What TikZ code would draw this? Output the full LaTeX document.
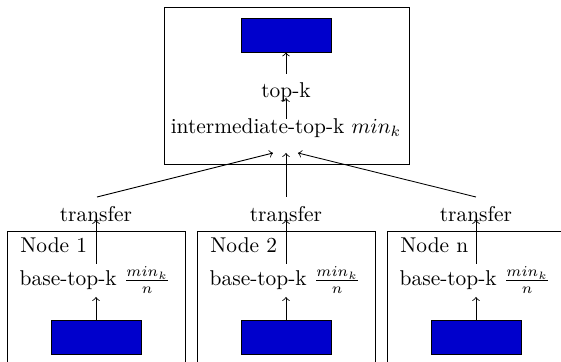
\documentclass[tikz,border=0pt]{standalone}
\usetikzlibrary{calc,fit}
\definecolor{barblue}{RGB}{0,0,204}
\begin{document}
\begin{tikzpicture}[x=0.467pt,y=-0.467pt,
  frame/.style={draw, inner sep=0pt},
  bar/.style={draw, fill=barblue, minimum width=42.03pt, minimum height=15.88pt, inner sep=0pt},
  lbl/.style={inner sep=0pt},
  arr/.style={->}]
\clip (0,0) rectangle (561,362);
\node[frame, fit={(164,7) (409,164)}] (top) {};
\node[bar] (tb) at (286,35) {};
\node[lbl] (topk) at (286,92) {top-k};
\node[lbl] (inter) at (286,128) {intermediate-top-k $min_k$};
\draw[arr] ($(topk.center)+(0,-18)$) -- (tb.south);
\draw[arr] ($(inter.center)+(0,-9)$) -- ($(topk.center)+(0,6)$);
\foreach \i/\x/\nm in {1/96/1, 2/286/2, 3/476/n}{
  \node[frame, fit={({\x-89},231) ({\x+89},380)}] (box\i) {};
  \node[lbl, anchor=west] (name\i) at ({\x-76},245) {Node \nm};
  \node[lbl] (base\i) at ({\x-1},280) {base-top-k $\frac{min_k}{n}$};
  \node[bar] (bb\i) at (\x,337) {};
  \node[lbl] (tr\i) at (\x,214) {transfer};
  \draw[arr] (bb\i.north) -- ($(base\i.center)+(1,17)$);
  \draw[arr] ($(base\i.center)+(1,-16)$) -- ($(tr\i.center)+(0,6)$);
}
\draw[arr] ($(tr1.center)+(1,-17)$) -- ($(inter.center)+(-13,25)$);
\draw[arr] ($(tr2.center)+(0,-17)$) -- ($(inter.center)+(0,25)$);
\draw[arr] ($(tr3.center)+(0,-17)$) -- ($(inter.center)+(12,25)$);
\end{tikzpicture}
\end{document}
